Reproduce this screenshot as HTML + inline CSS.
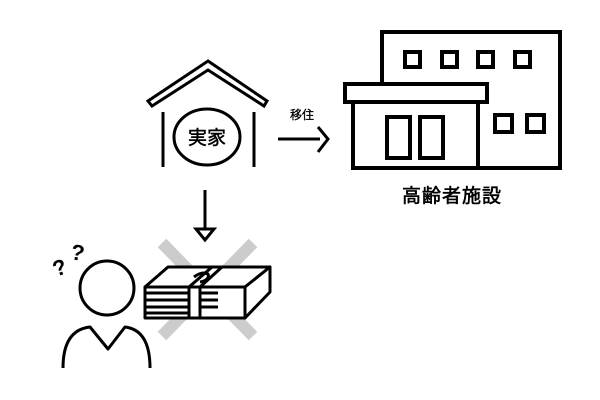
<!DOCTYPE html>
<html><head><meta charset="utf-8"><style>
html,body{margin:0;padding:0;background:#fff;width:600px;height:400px;overflow:hidden}
text{font-family:"Liberation Sans","Noto Sans CJK JP",sans-serif;fill:#000}
</style></head><body>
<svg width="600" height="400" viewBox="0 0 600 400" xmlns="http://www.w3.org/2000/svg">
<g fill="none" stroke="#000" stroke-width="3" stroke-linejoin="miter">
<polygon points="208,61 267,101 264,106 208,70 152,106 148,101"/>
<line x1="163" y1="112" x2="163" y2="167"/>
<line x1="254" y1="112" x2="254" y2="167"/>
<ellipse cx="207" cy="137" rx="33" ry="28"/>
<line x1="278" y1="139" x2="320" y2="139"/>
<polyline points="318,127 328,139 318,152"/>
<line x1="205" y1="190" x2="205" y2="229"/>
<polygon points="196,229 214,229 205,240"/>
</g>
<text x="207" y="144" font-size="19" text-anchor="middle" stroke="#000" stroke-width="0.5">実家</text>
<text x="302" y="119" font-size="12" text-anchor="middle" stroke="#000" stroke-width="0.3">移住</text>
<g fill="none" stroke="#000" stroke-width="4">
<polyline points="382,84 382,32 560,32 560,168 478,168"/>
<rect x="405" y="52" width="15" height="15"/>
<rect x="442" y="52" width="15" height="15"/>
<rect x="478" y="52" width="15" height="15"/>
<rect x="515" y="52" width="15" height="15"/>
<rect x="345" y="84" width="142" height="18"/>
<polyline points="353,102 353,168 478,168 478,102"/>
<rect x="387" y="117" width="23" height="41"/>
<rect x="420" y="117" width="23" height="41"/>
<rect x="495" y="115" width="17" height="17"/>
<rect x="527" y="115" width="17" height="17"/>
</g>
<text x="452" y="202" font-size="19" text-anchor="middle" letter-spacing="1" stroke="#000" stroke-width="0.6">高齢者施設</text>
<g stroke="#ccc" stroke-width="12">
<line x1="162" y1="243" x2="253" y2="336"/>
<line x1="253" y1="243" x2="162" y2="336"/>
</g>
<g fill="none" stroke="#000" stroke-width="3" stroke-linejoin="round">
<polygon points="145,287 168,267 270,267 245,287" fill="#fff"/>
<polygon points="245,287 270,267 270,292 245,318" fill="#fff"/>
<rect x="145" y="287" width="100" height="31" fill="#fff"/>
<line x1="145" y1="293" x2="188" y2="293"/><line x1="145" y1="300" x2="188" y2="300"/>
<line x1="145" y1="307" x2="188" y2="307"/><line x1="145" y1="313" x2="188" y2="313"/>
<line x1="200" y1="293" x2="218" y2="293"/><line x1="200" y1="300" x2="218" y2="300"/>
<line x1="200" y1="307" x2="218" y2="307"/>
<polygon points="189,287 212,267 222,267 200,287" fill="#fff"/>
<rect x="189" y="287" width="11" height="31" fill="#fff"/>
<path d="M194,277 q8,-6 14,-3 q2,6 -8,8"/>
<circle cx="107" cy="288" r="27"/>
<path d="M63,368 Q63,330 90,327 L108,349 L125,327 Q150,330 150,368"/>
</g>
<text x="53" y="275" font-size="22" font-weight="bold" transform="rotate(-20 60 268)">?</text>
<text x="71" y="260" font-size="22" font-weight="bold" transform="rotate(10 77 252)">?</text>
</svg>
</body></html>
